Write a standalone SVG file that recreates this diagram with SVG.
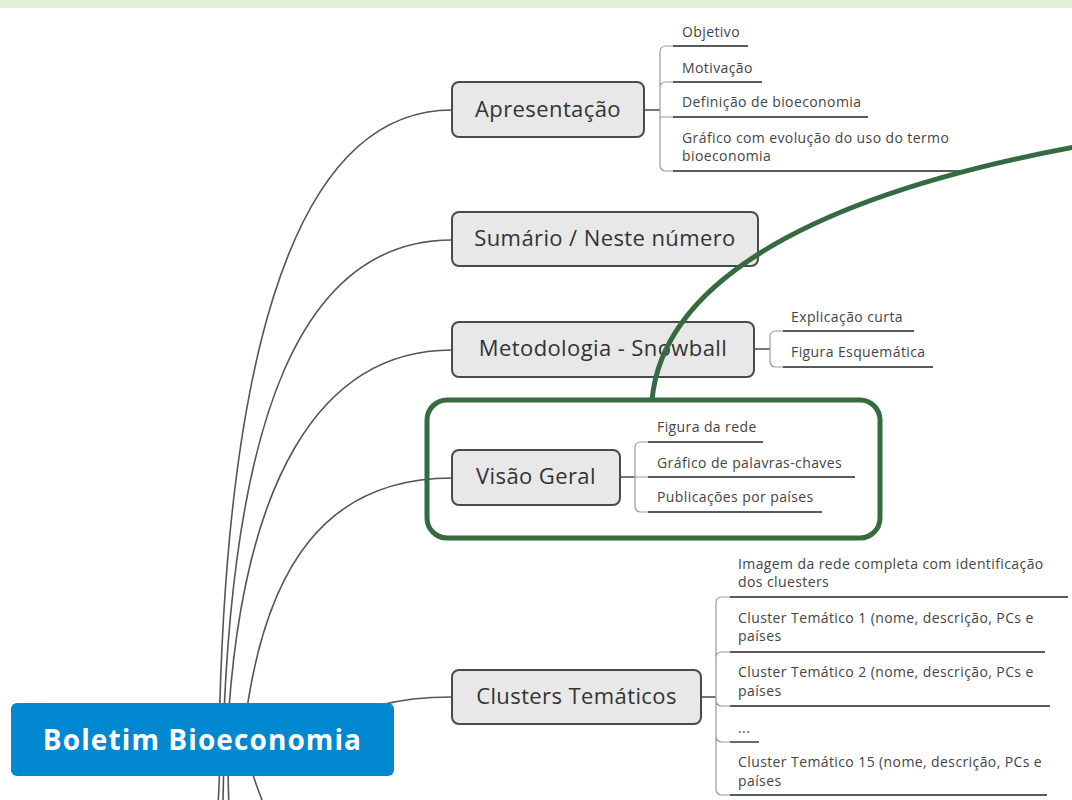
<svg xmlns="http://www.w3.org/2000/svg" width="1072" height="800" viewBox="0 0 1072 800">
<style>
.node rect{fill:#e8e8e8;stroke:#4a4a4a;stroke-width:2}
.ntext{font-family:"Open Sans","Noto Sans",sans-serif;font-size:22px;letter-spacing:0.4px;fill:#333;text-anchor:middle}
.ctext{font-family:"Open Sans","Noto Sans",sans-serif;font-size:14px;letter-spacing:0.4px;fill:#444}
.conn{fill:none;stroke:#555;stroke-width:1.6}
.br{fill:none;stroke:#999;stroke-width:1.2}
.ul{fill:none;stroke:#5a5a5a;stroke-width:1.8}
.root rect{fill:#0288d1}
.rtext{font-family:"Open Sans","Noto Sans",sans-serif;font-size:28px;letter-spacing:1.1px;font-weight:bold;fill:#fff;text-anchor:middle}
.hl{fill:none;stroke:#356b41;stroke-width:5}
</style>
<rect x="0" y="0" width="1072" height="8" fill="#e2efd9"/>
<g id="connectors">
<path class="conn" d="M219,740 C225,400 280,110 452,110"/>
<path class="conn" d="M223,740 C233,420 300,240 452,240"/>
<path class="conn" d="M227,740 C240,480 320,350 452,350"/>
<path class="conn" d="M243,740 C262,560 330,478 452,478"/>
<path class="conn" d="M300,740 C360,705 400,697 452,697"/>
<path class="conn" d="M220,740 C220,770 219,790 218,805"/>
<path class="conn" d="M224,740 C224,770 223,790 223,805"/>
<path class="conn" d="M228,740 C228,770 228,790 229,805"/>
<path class="conn" d="M245,740 C250,770 258,790 264,805"/>
<path class="conn" d="M644,110 H660"/>
<path class="conn" d="M754,349 H770"/>
<path class="conn" d="M620,477 H635"/>
<path class="conn" d="M701,697 H716"/>
<path class="br" d="M660,110 V52 Q660,46 666,46 H673 M660,110 V88 Q660,82 666,82 H673 M660,110 V117 H673 M660,110 V165 Q660,171 666,171 H673"/>
<path class="br" d="M770,349 V337 Q770,331 776,331 H783 M770,349 V361 Q770,367 776,367 H783"/>
<path class="br" d="M635,477 V448 Q635,442 641,442 H648 M635,477 H648 M635,477 V506 Q635,512 641,512 H648"/>
<path class="br" d="M716,697 V603 Q716,597 722,597 H730 M716,697 V658 Q716,652 722,652 H730 M716,697 V700 Q716,706 722,706 H730 M716,697 V736 Q716,742 722,742 H730 M716,697 V789 Q716,795 722,795 H730"/>
</g>
<g id="root" class="root"><rect x="11" y="703" width="383" height="73" rx="6"/><text class="rtext" x="202.5" y="750">Boletim Bioeconomia</text></g>
<g id="apresentacao" class="node"><rect x="452" y="82" width="192" height="55" rx="7"/><text class="ntext" x="548" y="117">Apresentação</text></g>
<g id="sumario" class="node"><rect x="452" y="212" width="306" height="54" rx="7"/><text class="ntext" x="605" y="246">Sumário / Neste número</text></g>
<g id="metodologia" class="node"><rect x="452" y="322" width="302" height="55" rx="7"/><text class="ntext" x="603" y="356">Metodologia - Snowball</text></g>
<g id="visao" class="node"><rect x="452" y="450" width="168" height="55" rx="7"/><text class="ntext" x="536" y="484">Visão Geral</text></g>
<g id="clusters" class="node"><rect x="452" y="670" width="249" height="54" rx="7"/><text class="ntext" x="576.5" y="704">Clusters Temáticos</text></g>
<g id="objetivo"><text class="ctext" x="682" y="37">Objetivo</text><path class="ul" d="M673,46 H748"/></g>
<g id="motivacao"><text class="ctext" x="682" y="73">Motivação</text><path class="ul" d="M673,82 H762"/></g>
<g id="definicao"><text class="ctext" x="682" y="107">Definição de bioeconomia</text><path class="ul" d="M673,117 H868"/></g>
<g id="grafico-evolucao"><text class="ctext" x="682" y="143">Gráfico com evolução do uso do termo</text><text class="ctext" x="682" y="161">bioeconomia</text><path class="ul" d="M673,171 H970"/></g>
<g id="explicacao"><text class="ctext" x="791" y="322">Explicação curta</text><path class="ul" d="M783,331 H914"/></g>
<g id="figura-esq"><text class="ctext" x="791" y="357">Figura Esquemática</text><path class="ul" d="M783,367 H933"/></g>
<g id="figura-rede"><text class="ctext" x="657" y="432">Figura da rede</text><path class="ul" d="M648,442 H763"/></g>
<g id="grafico-palavras"><text class="ctext" x="657" y="468">Gráfico de palavras-chaves</text><path class="ul" d="M648,477 H855"/></g>
<g id="publicacoes"><text class="ctext" x="657" y="502">Publicações por países</text><path class="ul" d="M648,512 H822"/></g>
<g id="imagem-rede"><text class="ctext" x="738" y="569">Imagem da rede completa com identificação</text><text class="ctext" x="738" y="587">dos cluesters</text><path class="ul" d="M730,597 H1068"/></g>
<g id="ct1"><text class="ctext" x="738" y="623">Cluster Temático 1 (nome, descrição, PCs e</text><text class="ctext" x="738" y="641">países</text><path class="ul" d="M730,652 H1045"/></g>
<g id="ct2"><text class="ctext" x="738" y="677">Cluster Temático 2 (nome, descrição, PCs e</text><text class="ctext" x="738" y="696">países</text><path class="ul" d="M730,706 H1050"/></g>
<g id="dots"><text class="ctext" x="738" y="733">...</text><path class="ul" d="M730,742 H759"/></g>
<g id="ct15"><text class="ctext" x="738" y="767">Cluster Temático 15 (nome, descrição, PCs e</text><text class="ctext" x="738" y="786">países</text><path class="ul" d="M730,795 H1047"/></g>
<g id="highlight">
<rect class="hl" x="427" y="400" width="453" height="138" rx="20"/>
<path class="hl" d="M652,400 C662,292 790,200 1075,147"/>
</g>
</svg>
